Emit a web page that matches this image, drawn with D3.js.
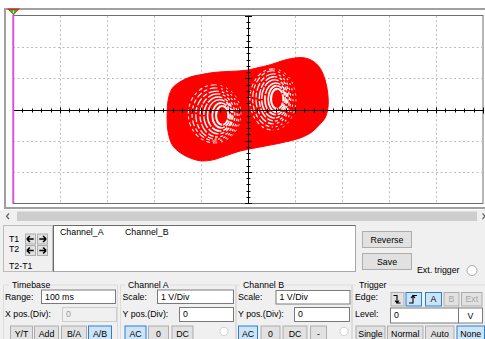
<!DOCTYPE html>
<html>
<head>
<meta charset="utf-8">
<script src="https://cdn.jsdelivr.net/npm/d3@7"></script>
<style>
  html, body { margin: 0; padding: 0; background: #ffffff; }
  svg { display: block; font-family: "Liberation Sans", Arial, sans-serif; }
</style>
</head>
<body>
<svg id="scope" width="485" height="339"></svg>
<script>
// ---- Screen divisions (1 V/Div on both channels) ----
const divX = [-5, -4, -3, -2, -1, 0, 1, 2, 3, 4, 5];
const divY = [-3, -2, -1, 0, 1, 2, 3];

// ---- A/B trace: outer boundary of the double-scroll, Channel A (V) vs Channel B (V) ----
const traceA = [-1.72, -1.70, -1.62, -1.45, -1.23, -1.02, -0.70, -0.38, -0.06, 0.19, 0.47, 0.75, 1.00, 1.21, 1.38, 1.53, 1.64, 1.70, 1.70, 1.64, 1.53, 1.36, 1.11, 0.79, 0.47, 0.15, -0.17, -0.49, -0.77, -1.02, -1.28, -1.49, -1.62, -1.70, -1.72];
const traceB = [-0.08, 0.30, 0.66, 0.88, 1.04, 1.11, 1.19, 1.22, 1.25, 1.33, 1.43, 1.57, 1.65, 1.65, 1.55, 1.33, 0.95, 0.47, 0.05, -0.27, -0.47, -0.72, -0.91, -1.04, -1.14, -1.23, -1.33, -1.49, -1.62, -1.64, -1.52, -1.33, -1.11, -0.72, -0.40];

// ---- Scroll orbits (gaps between successive passes): centre and half-widths in volts ----
const leftOrbitA  = [-0.55, -0.57, -0.60, -0.63, -0.65, -0.67, -0.69, -0.71];
const leftOrbitB  = [-0.19, -0.19, -0.19, -0.19, -0.19, -0.18, -0.16, -0.14];
const leftOrbitRA = [0.13, 0.19, 0.26, 0.31, 0.37, 0.44, 0.50, 0.56];
const leftOrbitRB = [0.30, 0.40, 0.50, 0.59, 0.69, 0.77, 0.85, 0.93];
const rightOrbitA  = [0.62, 0.61, 0.59, 0.57, 0.56, 0.54, 0.53, 0.53];
const rightOrbitB  = [0.34, 0.34, 0.34, 0.34, 0.34, 0.34, 0.34, 0.32];
const rightOrbitRA = [0.13, 0.18, 0.23, 0.28, 0.32, 0.37, 0.43, 0.49];
const rightOrbitRB = [0.32, 0.42, 0.51, 0.61, 0.71, 0.80, 0.90, 0.98];

// ---- Control panel texts ----
const cursorRows = ["T1", "T2", "T2-T1"];
const channelColumns = ["Channel_A", "Channel_B"];
const timebaseButtons = ["Y/T", "Add", "B/A", "A/B"];
const channelAButtons = ["AC", "0", "DC"];
const channelBButtons = ["AC", "0", "DC", "-"];
const triggerSourceButtons = ["A", "B", "Ext"];
const triggerModeButtons = ["Single", "Normal", "Auto", "None"];
const timebaseRange = "100 ms";
const channelScale = "1  V/Div";
const positionValue = "0";
const triggerLevel = "0";
const triggerUnit = "V";

const svg = d3.select("#scope");
const W = 485, H = 339;

const x = d3.scaleLinear().domain([-5, 5]).range([13, 483]);
const y = d3.scaleLinear().domain([-3, 3]).range([203.2, 15.8]);

// ---------- window background ----------
svg.append("rect").attr("width", W).attr("height", H).attr("fill", "#ffffff");
svg.append("rect").attr("x", 0).attr("y", 210).attr("width", W).attr("height", H - 210).attr("fill", "#f0f0f0");

// outer sunken frame of the display
svg.append("rect").attr("x", 5).attr("y", 9).attr("width", 486).attr("height", 199)
  .attr("fill", "#ffffff").attr("stroke", "#a0a0a0").attr("stroke-width", 2);

// ---------- display ----------
const plot = svg.append("g");
plot.append("rect").attr("x", 13).attr("y", 15.5).attr("width", 470).attr("height", 188)
  .attr("fill", "#ffffff").attr("stroke", "#6e6e6e").attr("stroke-width", 1);

plot.append("clipPath").attr("id", "screen")
  .append("rect").attr("x", 13).attr("y", 15.5).attr("width", 470).attr("height", 188);

// dotted division grid
const grid = plot.append("g").attr("stroke", "#bcbcbc").attr("stroke-width", 1).attr("stroke-dasharray", "2,2.5");
grid.selectAll("line.gx").data(divX.filter(d => d !== 0 && Math.abs(d) < 5)).join("line")
  .attr("x1", d => Math.round(x(d)) + 0.5).attr("x2", d => Math.round(x(d)) + 0.5)
  .attr("y1", y(3)).attr("y2", y(-3));
grid.selectAll("line.gy").data(divY.filter(d => d !== 0 && Math.abs(d) < 3)).join("line")
  .attr("y1", d => Math.round(y(d)) + 0.5).attr("y2", d => Math.round(y(d)) + 0.5)
  .attr("x1", x(-5)).attr("x2", x(5));

// A/B trace
const trace = plot.append("g").attr("clip-path", "url(#screen)");
const tracePts = traceA.map((a, i) => [x(a), y(traceB[i])]);
const outline = d3.line().curve(d3.curveCatmullRomClosed.alpha(0.5));
trace.append("clipPath").attr("id", "attractor").append("path").attr("d", outline(tracePts));
trace.append("path").attr("d", outline(tracePts)).attr("fill", "#ff0000").attr("stroke", "#ff0000").attr("stroke-width", 1);

// each orbit: the open (outer) half as a nearly continuous gap, the converging half broken up
const outerDash = ["none", "none", "16 1.5", "12 1.5", "10 2 6 1.5", "8 2 5 2", "6 2.5 4 2.5", "4 3 3 3"];
const innerDash = ["7 1.2", "6 1.5", "5 2", "4 2.5", "3 2.5", "2.5 3", "2 3.5", "2 4"];
const orbitWidth = [2.1, 1.8, 1.6, 1.45, 1.35, 1.25, 1.15, 1.05];
const orbits = trace.append("g").attr("clip-path", "url(#attractor)")
  .attr("fill", "none").attr("stroke", "#ffffff");
function halfEllipse(cx, cy, rx, ry, outer) {
  // sweep 0: top -> left -> bottom ; sweep 1: top -> right -> bottom
  return `M${cx},${cy - ry} A${rx},${ry} 0 0 ${outer ? 0 : 1} ${cx},${cy + ry}`;
}
const lobes = [
  { ca: leftOrbitA, cb: leftOrbitB, ra: leftOrbitRA, rb: leftOrbitRB },
  { ca: rightOrbitA, cb: rightOrbitB, ra: rightOrbitRA, rb: rightOrbitRB }
];
lobes.forEach(L => {
  L.ca.forEach((a, i) => {
    const cx = x(a), cy = y(L.cb[i]);
    const rx = x(L.ra[i]) - x(0), ry = y(0) - y(L.rb[i]);
    orbits.append("path").attr("d", halfEllipse(cx, cy, rx, ry, true))
      .attr("stroke-width", orbitWidth[i]).attr("stroke-dasharray", outerDash[i]);
    orbits.append("path").attr("d", halfEllipse(cx, cy, rx, ry, false))
      .attr("stroke-width", orbitWidth[i] * 0.9).attr("stroke-dasharray", innerDash[i]);
  });
});

// centre axes with sub-division ticks
const axes = plot.append("g").attr("stroke", "#000000").attr("stroke-width", 1);
const y0 = Math.round(y(0)) + 0.5, x0 = Math.round(x(0)) + 0.5;
axes.append("line").attr("x1", x(-5)).attr("x2", x(5)).attr("y1", y0).attr("y2", y0);
axes.append("line").attr("x1", x0).attr("x2", x0).attr("y1", y(3)).attr("y2", y(-3));
const subX = d3.range(-25, 26).map(i => i / 5);
const subY = d3.range(-15, 16).map(i => i / 5);
axes.selectAll("line.tx").data(subX).join("line")
  .attr("x1", d => Math.round(x(d)) + 0.5).attr("x2", d => Math.round(x(d)) + 0.5)
  .attr("y1", d => y0 - (Number.isInteger(d) ? 3 : 2)).attr("y2", d => y0 + (Number.isInteger(d) ? 3 : 2));
axes.selectAll("line.ty").data(subY).join("line")
  .attr("y1", d => Math.round(y(d)) + 0.5).attr("y2", d => Math.round(y(d)) + 0.5)
  .attr("x1", d => x0 - (Number.isInteger(d) ? 3.5 : 2)).attr("x2", d => x0 + (Number.isInteger(d) ? 3.5 : 2));

// cursor T1 and trigger marker
svg.append("line").attr("x1", 13.5).attr("x2", 13.5).attr("y1", 12).attr("y2", 203)
  .attr("stroke", "#ff33ff").attr("stroke-width", 1.4);
svg.append("path").attr("d", "M7,8.5 L20,8.5 L13.5,15 Z").attr("fill", "#e0201c");
svg.append("path").attr("d", "M9.5,10 L17.5,10 L13.5,14.5 Z").attr("fill", "#22c322");
svg.append("line").attr("x1", 13.5).attr("x2", 13.5).attr("y1", 10.5).attr("y2", 13).attr("stroke", "#ffffff").attr("stroke-width", 0.8);

// ---------- horizontal scrollbar ----------
svg.append("rect").attr("x", 0).attr("y", 210).attr("width", W).attr("height", 12).attr("fill", "#f0f0f0");
svg.append("rect").attr("x", 17).attr("y", 211.5).attr("width", 460).attr("height", 9.5).attr("fill", "#cdcdcd");
svg.append("path").attr("d", "M9,213.5 L6.5,216.2 L9,219").attr("fill", "none").attr("stroke", "#606060").attr("stroke-width", 1.2);
svg.append("path").attr("d", "M482.5,213.5 L485,216.2 L482.5,219").attr("fill", "none").attr("stroke", "#606060").attr("stroke-width", 1.2);

// ---------- widget helpers ----------
const ui = svg.append("g").attr("font-size", "8.8px").attr("fill", "#000");
function label(px, py, t, opts = {}) {
  return ui.append("text").attr("x", px).attr("y", py).text(t)
    .attr("fill", opts.color || "#000").attr("text-anchor", opts.anchor || "start");
}
function button(px, py, w, h, t, opts = {}) {
  const fill = opts.active ? "#cce4f7" : "#e1e1e1";
  const stroke = opts.active ? "#2a7fcf" : "#adadad";
  ui.append("rect").attr("x", px + 0.5).attr("y", py + 0.5).attr("width", w).attr("height", h)
    .attr("fill", fill).attr("stroke", stroke).attr("stroke-width", 1);
  if (t !== null) label(px + w / 2 + 0.5, py + h / 2 + 3.6, t, { anchor: "middle", color: opts.disabled ? "#a6a6a6" : "#000" });
}
function field(px, py, w, h, t, opts = {}) {
  ui.append("rect").attr("x", px + 0.5).attr("y", py + 0.5).attr("width", w).attr("height", h)
    .attr("fill", opts.disabled ? "#f0f0f0" : "#ffffff").attr("stroke", opts.disabled ? "#cccccc" : "#7a7a7a");
  label(px + 4, py + h / 2 + 3.4, t, { color: opts.disabled ? "#9a9a9a" : "#000" });
}
function group(x1, x2, py, title, tx, tw) {
  const g = ui.append("g").attr("stroke", "#dcdcdc").attr("fill", "none");
  g.append("path").attr("d", `M${tx - 3},${py + 0.5} H${x1 + 0.5} V${H} M${tx + tw + 2},${py + 0.5} H${x2 + 0.5} V${H}`);
  label(tx, py + 3.3, title);
}
function radio(cx, cy, r, color) {
  ui.append("circle").attr("cx", cx).attr("cy", cy).attr("r", r)
    .attr("fill", "#ffffff").attr("stroke", color);
}

// ---------- cursor readout ----------
ui.append("rect").attr("x", 3.5).attr("y", 225.5).attr("width", 49).attr("height", 46)
  .attr("fill", "#f0f0f0").attr("stroke", "#bcbcbc");
const rowY = [238.5, 249, 266];
cursorRows.forEach((t, i) => label(9, rowY[i] + 3, t));
[233.5, 245].forEach(by => {
  [25, 37].forEach((bx, j) => {
    ui.append("rect").attr("x", bx + 0.5).attr("y", by + 0.5).attr("width", 10).attr("height", 10)
      .attr("fill", "#e1e1e1").attr("stroke", "#adadad");
    const cx = bx + 5.5, cy = by + 5.5, dir = j === 0 ? -1 : 1;
    ui.append("path")
      .attr("d", `M${cx - 3.2 * dir},${cy} H${cx + 3 * dir} M${cx + 3.6 * dir},${cy} L${cx + 0.6 * dir},${cy - 3} M${cx + 3.6 * dir},${cy} L${cx + 0.6 * dir},${cy + 3}`)
      .attr("stroke", "#000").attr("stroke-width", 1.6).attr("fill", "none");
  });
});
ui.append("rect").attr("x", 53.5).attr("y", 225.5).attr("width", 302).attr("height", 46)
  .attr("fill", "#ffffff").attr("stroke", "#a8a8a8");
ui.append("path").attr("d", "M53.5,271.5 V225.5 H355.5").attr("stroke", "#6a6a6a").attr("fill", "none");
channelColumns.forEach((t, i) => label([60, 125][i], 234.8, t));

button(362, 231, 49, 16, "Reverse");
button(362, 253, 49, 16, "Save");
label(417, 273.2, "Ext. trigger");
radio(472, 270.5, 5, "#a8a8a8");

// ---------- Timebase ----------
group(3, 117, 284.5, "Timebase", 12, 35);
label(5, 299.8, "Range:");
field(41, 289.5, 74, 13.5, timebaseRange);
label(5, 317.3, "X pos.(Div):");
field(62, 307, 54, 14, positionValue, { disabled: true });
const tbX = [10, 34, 61, 88], tbW = [22, 24, 25, 23];
timebaseButtons.forEach((t, i) => button(tbX[i], 325.5, tbW[i], 15, t, { active: t === "A/B" }));

// ---------- Channel A ----------
group(120, 235, 284.5, "Channel A", 128, 39);
label(122.5, 299.8, "Scale:");
field(157, 289.5, 76, 13.5, channelScale);
label(122.5, 317.3, "Y pos.(Div):");
field(179, 307, 54, 14, positionValue);
const caX = [124.5, 148, 171.5], caW = [21, 20, 21];
channelAButtons.forEach((t, i) => button(caX[i], 325.5, caW[i], 15, t, { active: i === 0 }));
radio(224, 331.5, 4.2, "#cfcfcf");

// ---------- Channel B ----------
group(236, 351, 284.5, "Channel B", 243, 39);
label(238, 299.8, "Scale:");
field(275.5, 290, 74, 13.5, channelScale);
label(238, 317.3, "Y pos.(Div):");
field(294, 307, 55, 14, positionValue);
const cbX = [238, 260.5, 282.5, 310], cbW = [19, 19, 24, 16];
channelBButtons.forEach((t, i) => button(cbX[i], 325.5, cbW[i], 15, t, { active: i === 0 }));
radio(344, 331.5, 4.2, "#cfcfcf");

// ---------- Trigger ----------
group(352, 490, 284.5, "Trigger", 359, 28);
label(355, 299.8, "Edge:");
button(390.5, 292, 13, 13.5, null);
button(405.5, 292, 15.5, 13.5, null, { active: true });
ui.append("path").attr("d", "M393.5,295.5 H397 V303 H400.5 M395,300.5 L397,303 L399,300.5")
  .attr("stroke", "#000").attr("stroke-width", 1.1).attr("fill", "none");
ui.append("path").attr("d", "M409,303 H413 V295.5 H417 M411,298 L413,295.5 L415,298")
  .attr("stroke", "#000").attr("stroke-width", 1.1).attr("fill", "none");
const tsX = [425, 443.5, 461], tsW = [16, 15, 20.5];
triggerSourceButtons.forEach((t, i) => button(tsX[i], 292, tsW[i], 13.5, t, { active: i === 0, disabled: i > 0 }));
label(355, 317.3, "Level:");
field(390, 307.5, 68, 15, triggerLevel);
ui.append("rect").attr("x", 458.5).attr("y", 308).attr("width", 24).attr("height", 15)
  .attr("fill", "#ffffff").attr("stroke", "#7a7a7a");
label(470.5, 318.8, triggerUnit, { anchor: "middle" });
const tmX = [355.5, 387, 425, 456.5], tmW = [29, 35.5, 28.5, 27.5];
triggerModeButtons.forEach((t, i) => button(tmX[i], 325.5, tmW[i], 15, t, { active: t === "None" }));
</script>
</body>
</html>
